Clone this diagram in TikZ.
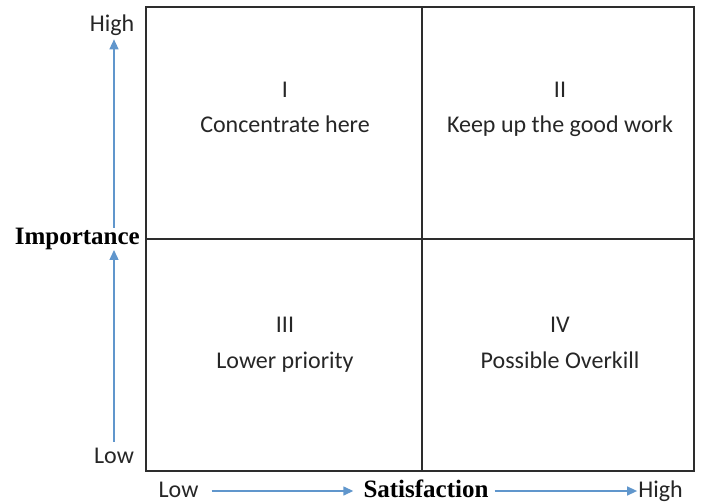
\documentclass[tikz,border=0pt]{standalone}
\usepackage{fontspec}
\setmainfont{Carlito}
\newfontfamily\tnr{Liberation Serif}
\usetikzlibrary{arrows.meta,calc}
\definecolor{axblue}{RGB}{96,150,204}
\definecolor{boxgray}{RGB}{45,45,45}
\definecolor{txt}{RGB}{38,38,38}
\begin{document}
\begin{tikzpicture}[x=1pt,y=-1pt,
 lbl/.style={font=\fontsize{24}{28}\selectfont, text=txt, inner sep=0pt, anchor=base},
 axtitle/.style={font=\tnr\bfseries\fontsize{25}{30}\selectfont, text=black, inner sep=0pt},
 axarrow/.style={draw=axblue, line width=1.4pt, -{Triangle[length=10pt,width=9pt]}},
 gridline/.style={draw=boxgray, line width=1.6pt}]
\useasboundingbox (0,0) rectangle (701,502);
% frame
\node[gridline, rectangle, minimum width=548pt, minimum height=464pt, inner sep=0pt] (box) at (420,239) {};
\draw[gridline] ($(box.north west)+(277,0)$) -- ($(box.south west)+(277,0)$);
\draw[gridline] ($(box.north west)+(0,233)$) -- ($(box.north east)+(0,233)$);
% quadrant texts
\node[lbl] (q1n) at (285,98) {I};
\node[lbl] (q1t) at (285,133) {Concentrate here};
\node[lbl] (q2n) at (560,98) {II};
\node[lbl] (q2t) at (560,133) {Keep up the good work};
\node[lbl] (q3n) at (285,333) {III};
\node[lbl] (q3t) at (285,368) {Lower priority};
\node[lbl] (q4n) at (560,333) {IV};
\node[lbl] (q4t) at (560,368) {Possible Overkill};
% vertical axis
\node[lbl] (highy) at (112,32) {High};
\node[axtitle, anchor=base east] (imp) at (140,245) {Importance};
\node[lbl] (lowy) at (114,463) {Low};
\draw[axarrow] ($(lowy.north)+(0,-5.5)$) -- ($(imp.base -| lowy.north)+(0,5)$);
\draw[axarrow] ($(imp.base -| lowy.north)+(0,-17)$) -- ($(highy.south -| lowy.north)+(0,3)$);
% horizontal axis
\node[lbl] (lowx) at (178.5,497) {Low};
\node[axtitle, anchor=base] (sat) at (426,497) {Satisfaction};
\node[lbl] (highx) at (660.5,497) {High};
\draw[axarrow] ($(lowx.base east)+(13,-6)$) -- ($(sat.base west)+(-10,-6)$);
\draw[axarrow] ($(sat.base east)+(6,-6)$) -- ($(highx.base west)+(-1,-6)$);
\end{tikzpicture}
\end{document}
